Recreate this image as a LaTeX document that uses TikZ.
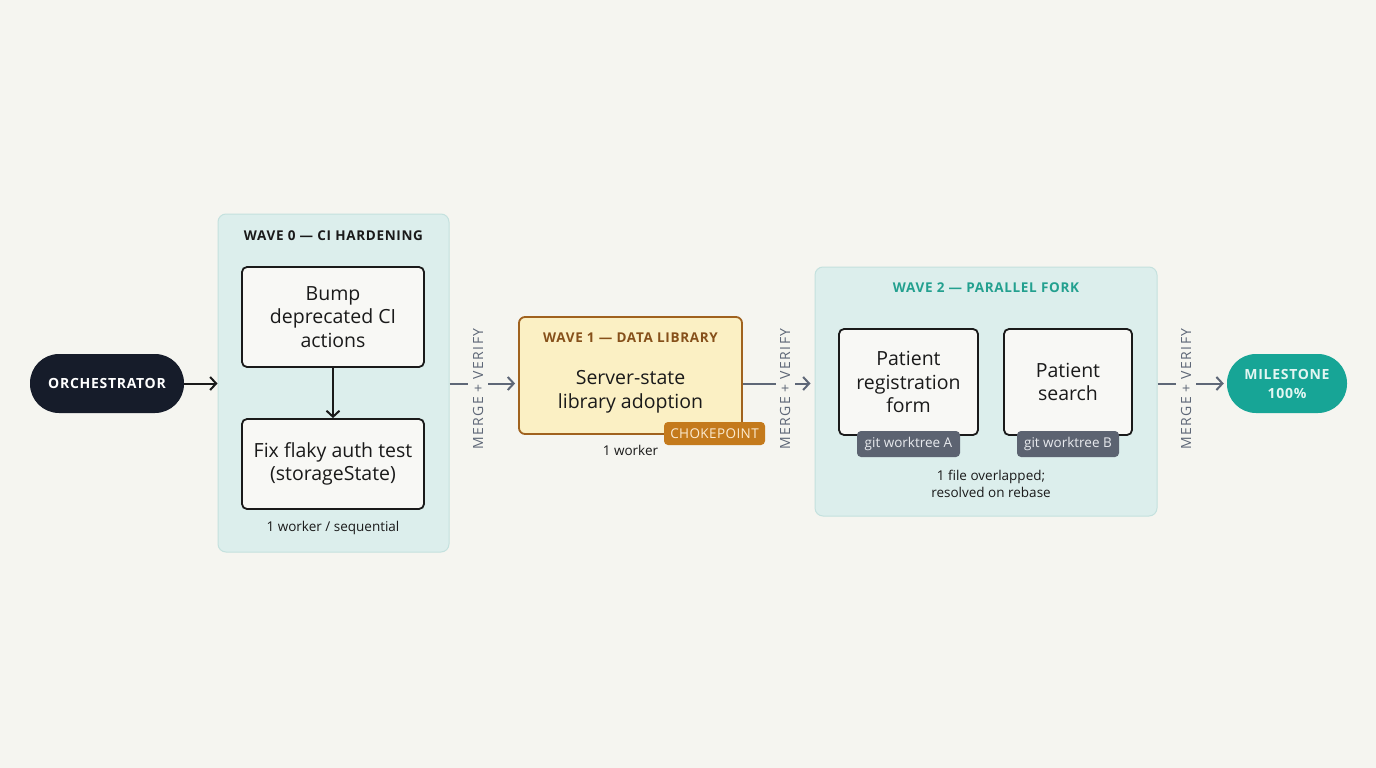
\documentclass[tikz,border=0pt]{standalone}
\usepackage{fontspec}
\setmainfont{Open Sans}
\usetikzlibrary{arrows.meta}
\definecolor{bg}{HTML}{F5F5F0}
\definecolor{tealf}{HTML}{DCEEEC}
\definecolor{tealb}{HTML}{C4E1DE}
\definecolor{navy}{HTML}{161C2A}
\definecolor{ink}{HTML}{1A1A1A}
\definecolor{taskf}{HTML}{F8F8F5}
\definecolor{yellowf}{HTML}{FBF0C4}
\definecolor{brownb}{HTML}{A0621E}
\definecolor{brownt}{HTML}{86501A}
\definecolor{chokef}{HTML}{C47A1C}
\definecolor{choket}{HTML}{FCEBD0}
\definecolor{badgef}{HTML}{5C6371}
\definecolor{badget}{HTML}{E8EAEE}
\definecolor{tealt}{HTML}{23A08F}
\definecolor{milef}{HTML}{17A596}
\definecolor{milet}{HTML}{E2F6F2}
\definecolor{connc}{HTML}{5E6777}
\begin{document}
\begin{tikzpicture}[x=1pt,y=-1pt,
  panel/.style={draw=tealb, fill=tealf, line width=1pt, rounded corners=8pt, inner sep=0pt},
  task/.style={draw=ink, fill=taskf, line width=1.8pt, rounded corners=5pt, align=center, text=ink, inner sep=0pt, font=\fontsize{19.5}{23.5}\selectfont},
  pill/.style={rounded corners=29pt, align=center, inner sep=0pt, font=\bfseries\fontsize{14}{19}\selectfont\addfontfeatures{LetterSpace=5}},
  badge/.style={rounded corners=4pt, inner sep=0pt, font=\fontsize{13.5}{15}\selectfont},
  ttl/.style={font=\bfseries\fontsize{13.5}{15}\selectfont\addfontfeatures{LetterSpace=5}, inner sep=0pt},
  note/.style={font=\fontsize{13.5}{17}\selectfont, align=center, text=ink, inner sep=0pt},
  mv/.style={rotate=90, font=\fontsize{14}{15}\selectfont\addfontfeatures{LetterSpace=10}, text=connc, inner sep=0pt},
  conn/.style={draw=connc, line width=2pt},
  arr/.style={conn, -{Straight Barb[length=6pt,width=13pt]}}
]
\fill[bg] (0,0) rectangle (1376,768);
\useasboundingbox (0,0) rectangle (1376,768);

% orchestrator
\node[pill, fill=navy, text=white, minimum width=154pt, minimum height=59pt] (orch) at (107,383.5) {ORCHESTRATOR};

% wave 0
\node[panel, minimum width=231pt, minimum height=338pt] (w0) at (333.5,383) {};
\node[ttl, text=ink] (w0t) at (333.5,236) {WAVE 0 — CI HARDENING};
\node[task, minimum width=182pt, minimum height=100pt] (t1) at (333,317) {Bump\\deprecated CI\\actions};
\node[task, minimum width=182pt, minimum height=90pt] (t2) at (333,464) {Fix flaky auth test\\(storageState)};
\node[note] (w0n) at (333,528) {1 worker / sequential};

% wave 1
\node[task, draw=brownb, fill=yellowf, rounded corners=6pt, minimum width=223pt, minimum height=117pt] (w1) at (630.5,375.5) {};
\node[ttl, text=brownt] (w1t) at (630.5,338) {WAVE 1 — DATA LIBRARY};
\node[note, font=\fontsize{19.5}{24}\selectfont] (w1x) at (630.5,392) {Server-state\\library adoption};
\node[badge, fill=chokef, text=choket, minimum width=101pt, minimum height=23pt, font=\fontsize{13.5}{15}\selectfont\addfontfeatures{LetterSpace=3}] (choke) at (714.5,433.5) {CHOKEPOINT};
\node[note] (w1n) at (630.5,450) {1 worker};

% wave 2
\node[panel, minimum width=342pt, minimum height=249pt] (w2) at (986,391.5) {};
\node[ttl, text=tealt] (w2t) at (986,288) {WAVE 2 — PARALLEL FORK};
\node[task, minimum width=139pt, minimum height=106pt] (pa) at (908.5,382) {Patient\\registration\\form};
\node[task, minimum width=128pt, minimum height=106pt] (pb) at (1068,382) {Patient\\search};
\node[badge, fill=badgef, text=badget, minimum width=103pt, minimum height=26pt] (ga) at (908.5,444) {git worktree A};
\node[badge, fill=badgef, text=badget, minimum width=102pt, minimum height=26pt] (gb) at (1068,444) {git worktree B};
\node[note] (w2n) at (991,484) {1 file overlapped;\\resolved on rebase};

% milestone
\node[pill, fill=milef, text=milet, minimum width=120pt, minimum height=59pt] (mile) at (1287,383.5) {MILESTONE\\100\%};

% merge labels
\node[mv] (m1) at (478,389) {MERGE + VERIFY};
\node[mv] (m2) at (785,389) {MERGE + VERIFY};
\node[mv] (m3) at (1186,389) {MERGE + VERIFY};

% connectors
\draw[arr, draw=ink] (orch.east) -- (w0.west |- orch);
\draw[arr, draw=ink] (t1.south) -- (t2.north);
\draw[conn] (w0.east |- orch) -- ([xshift=-10pt]m1.center |- orch);
\draw[arr, shorten >=3pt] ([xshift=10pt]m1.center |- orch) -- (w1.west |- orch);
\draw[conn] (w1.east |- orch) -- ([xshift=-9pt]m2.center |- orch);
\draw[arr, shorten >=4pt] ([xshift=10pt]m2.center |- orch) -- (w2.west |- orch);
\draw[conn] (w2.east |- orch) -- ([xshift=-10pt]m3.center |- orch);
\draw[arr, shorten >=3pt] ([xshift=10pt]m3.center |- orch) -- (mile.west);
\end{tikzpicture}
\end{document}
